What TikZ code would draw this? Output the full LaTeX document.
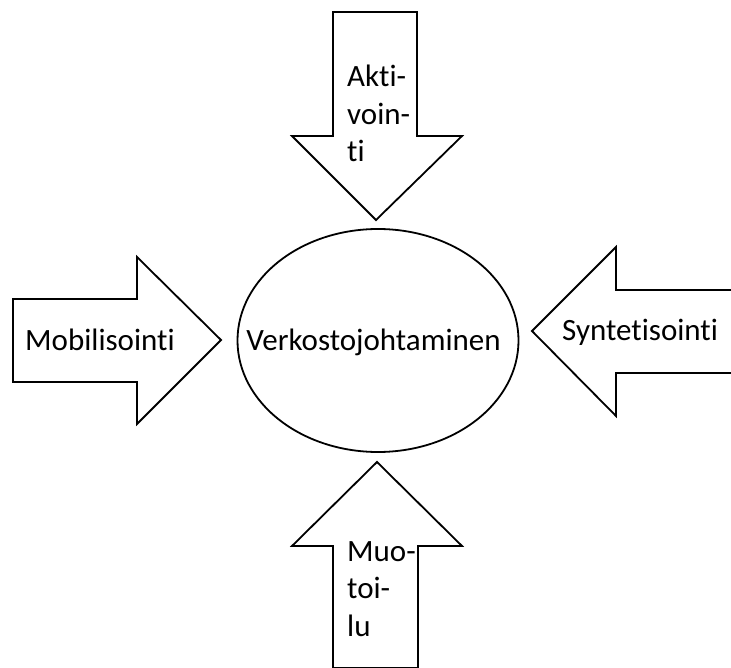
\documentclass[tikz,border=0pt]{standalone}
\usepackage{fontspec}
\setmainfont[Ligatures=NoCommon]{Carlito}
\usetikzlibrary{shapes.geometric, positioning}

\begin{document}
\begin{tikzpicture}[
    x=1pt, y=-1pt,
    blockarrow/.style={draw, line width=1.8pt, line join=miter, fill=white},
    hub/.style={ellipse, draw, line width=1.8pt, minimum width=281pt, minimum height=223pt, inner sep=0pt},
    label/.style={inner sep=0pt, align=left, font=\fontsize{31}{37.5}\selectfont}
]
    \useasboundingbox (0,0) rectangle (731,668);
    \clip (0,0) rectangle (731,668);

    % Aktivointi (from above)
    \draw[blockarrow] (333,12) -- (417,12) -- (417,136) -- (462,136) -- (376,220)
        -- (292,136) -- (333,136) -- cycle;
    \node[label, anchor=base west] (akti) at (347,162) {Akti-\\voin-\\ti};

    % Mobilisointi (from left)
    \draw[blockarrow] (13,299) -- (137,299) -- (137,257) -- (221,340)
        -- (137,424) -- (137,382) -- (13,382) -- cycle;
    \node[label, anchor=base west] (mobi) at (25,351) {Mobilisointi};

    % Syntetisointi (from right)
    \draw[blockarrow] (745,290) -- (616,290) -- (616,247) -- (532,331)
        -- (616,416) -- (616,373) -- (745,373);
    \node[label, anchor=base west] (synt) at (562,341) {Syntetisointi};

    % Muotoilu (from below)
    \draw[blockarrow] (333,668) -- (333,546) -- (292,546) -- (377,462)
        -- (462,546) -- (418,546) -- (418,668) -- cycle;
    \node[label, anchor=base west] (muot) at (347,636) {Muo-\\toi-\\lu};

    % Verkostojohtaminen
    \node[hub] (verk) at (378,340.5) {};
    \node[label, anchor=base] (verktext) at (373.5,351) {Verkostojohtaminen};
\end{tikzpicture}
\end{document}
